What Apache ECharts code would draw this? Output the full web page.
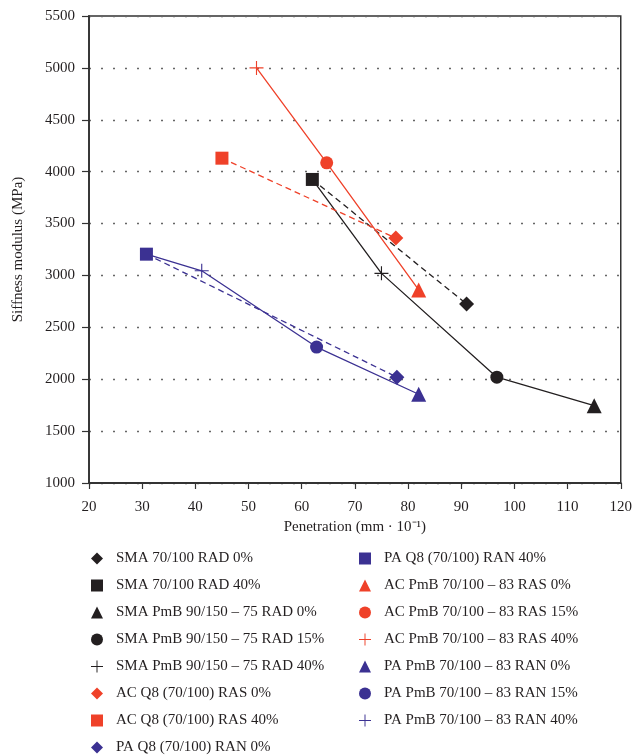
<!DOCTYPE html>
<html>
<head>
<meta charset="utf-8">
<script src="https://cdn.jsdelivr.net/npm/echarts@6/dist/echarts.min.js"></script>
<style>
  html, body { margin: 0; padding: 0; background: #fff; }
  #chart { width: 635px; height: 755px; }
</style>
</head>
<body>
<div id="chart"></div>
<script>
// mixtures, in legend order
const mixNames = [
  'SMA 70/100 RAD 0%',
  'SMA 70/100 RAD 40%',
  'SMA PmB 90/150 – 75 RAD 0%',
  'SMA PmB 90/150 – 75 RAD 15%',
  'SMA PmB 90/150 – 75 RAD 40%',
  'AC Q8 (70/100) RAS 0%',
  'AC Q8 (70/100) RAS 40%',
  'PA Q8 (70/100) RAN 0%',
  'PA Q8 (70/100) RAN 40%',
  'AC PmB 70/100 – 83 RAS 0%',
  'AC PmB 70/100 – 83 RAS 15%',
  'AC PmB 70/100 – 83 RAS 40%',
  'PA PmB 70/100 – 83 RAN 0%',
  'PA PmB 70/100 – 83 RAN 15%',
  'PA PmB 70/100 – 83 RAN 40%'
];
// penetration (mm·10^-1)
const penetration = [91, 62, 115, 96.7, 75, 77.7, 45, 77.9, 30.8, 82, 64.7, 51.5, 82, 62.8, 41.2];
// stiffness modulus (MPa)
const stiffness = [2725, 3925, 1745, 2020, 3020, 3360, 4130, 2020, 3205, 2860, 4085, 5000, 1855, 2310, 3045];

// which points the trend lines join (indices into the arrays above)
const blackDashed = [1, 0];
const blackSolid = [1, 4, 3, 2];
const redDashed = [6, 5];
const redSolid = [11, 10, 9];
const blueDashed = [8, 7];
const blueSolid = [8, 14, 13, 12];

const BLACK = '#231f20';
const RED = '#ef4129';
const BLUE = '#3b3192';
const PLUS = 'path://M0,9.2L20,9.2L20,10.8L0,10.8ZM9.2,0L10.8,0L10.8,20L9.2,20Z';
const FONT = 'Liberation Serif';

const markerStyle = [
  ['diamond', BLACK, 15], ['rect', BLACK, 13], ['triangle', BLACK, 15], ['circle', BLACK, 13], [PLUS, BLACK, 14],
  ['diamond', RED, 15], ['rect', RED, 13],
  ['diamond', BLUE, 15], ['rect', BLUE, 13],
  ['triangle', RED, 15], ['circle', RED, 13], [PLUS, RED, 14],
  ['triangle', BLUE, 15], ['circle', BLUE, 13], [PLUS, BLUE, 14]
];

const pt = i => [penetration[i], stiffness[i]];

const trend = (name, idx, color, dashed) => ({
  name: name,
  type: 'line',
  data: idx.map(pt),
  symbol: 'none',
  silent: true,
  z: 2,
  lineStyle: { color: color, width: 1.3, type: dashed ? [6, 4] : 'solid' },
  itemStyle: { color: color }
});

const series = [
  trend('_bd', blackDashed, BLACK, true),
  trend('_bs', blackSolid, BLACK, false),
  trend('_rd', redDashed, RED, true),
  trend('_rs', redSolid, RED, false),
  trend('_ud', blueDashed, BLUE, true),
  trend('_us', blueSolid, BLUE, false)
];

mixNames.forEach((name, i) => {
  const [symbol, color, size] = markerStyle[i];
  series.push({
    name: name,
    type: 'scatter',
    data: [pt(i)],
    symbol: symbol,
    symbolSize: size,
    z: 3,
    itemStyle: { color: color, opacity: 1 }
  });
});

const leftCol = [0, 1, 2, 3, 4, 5, 6, 7].map(i => mixNames[i]);
const rightCol = [8, 9, 10, 11, 12, 13, 14].map(i => mixNames[i]);

const legendBase = {
  orient: 'vertical',
  top: 551,
  height: 240,
  padding: 0,
  itemWidth: 12,
  itemHeight: 12,
  itemGap: 12,
  selectedMode: false,
  textStyle: { fontFamily: FONT, fontSize: 15, color: BLACK, padding: [0, 0, 0, 8] }
};

const chart = echarts.init(document.getElementById('chart'), null, { renderer: 'canvas' });

chart.setOption({
  animation: false,
  backgroundColor: '#fff',
  textStyle: { fontFamily: FONT },
  grid: {
    left: 89,
    top: 16,
    right: 9,
    bottom: 272,
    show: true,
    borderColor: '#333',
    borderWidth: 1.5,
    backgroundColor: 'transparent'
  },
  legend: [
    Object.assign({}, legendBase, { left: 91, data: leftCol }),
    Object.assign({}, legendBase, { left: 359, data: rightCol })
  ],
  xAxis: {
    type: 'value',
    min: 20,
    max: 120,
    interval: 10,
    name: 'Penetration (mm · 10⁻¹)',
    nameLocation: 'middle',
    nameGap: 35,
    nameTextStyle: { fontFamily: FONT, fontSize: 15, color: BLACK },
    axisLine: { lineStyle: { color: '#333', width: 1.8 } },
    axisTick: { show: true, inside: false, length: 6, lineStyle: { color: '#333', width: 1.2 } },
    axisLabel: { margin: 17, fontFamily: FONT, fontSize: 15, color: BLACK },
    splitLine: { show: false }
  },
  yAxis: {
    type: 'value',
    min: 1000,
    max: 5500,
    interval: 500,
    name: 'Siffness modulus (MPa)',
    nameLocation: 'middle',
    nameGap: 63,
    nameTextStyle: { fontFamily: FONT, fontSize: 15, color: BLACK },
    axisLine: { show: true, lineStyle: { color: '#333', width: 1.8 } },
    axisTick: { show: true, inside: false, length: 7, lineStyle: { color: '#333', width: 1.2 } },
    axisLabel: { margin: 14, fontFamily: FONT, fontSize: 15, color: BLACK, formatter: v => String(v) },
    splitLine: { show: true, lineStyle: { color: '#666', width: 1.3, type: [2, 10] } }
  },
  series: series
});
</script>
</body>
</html>
